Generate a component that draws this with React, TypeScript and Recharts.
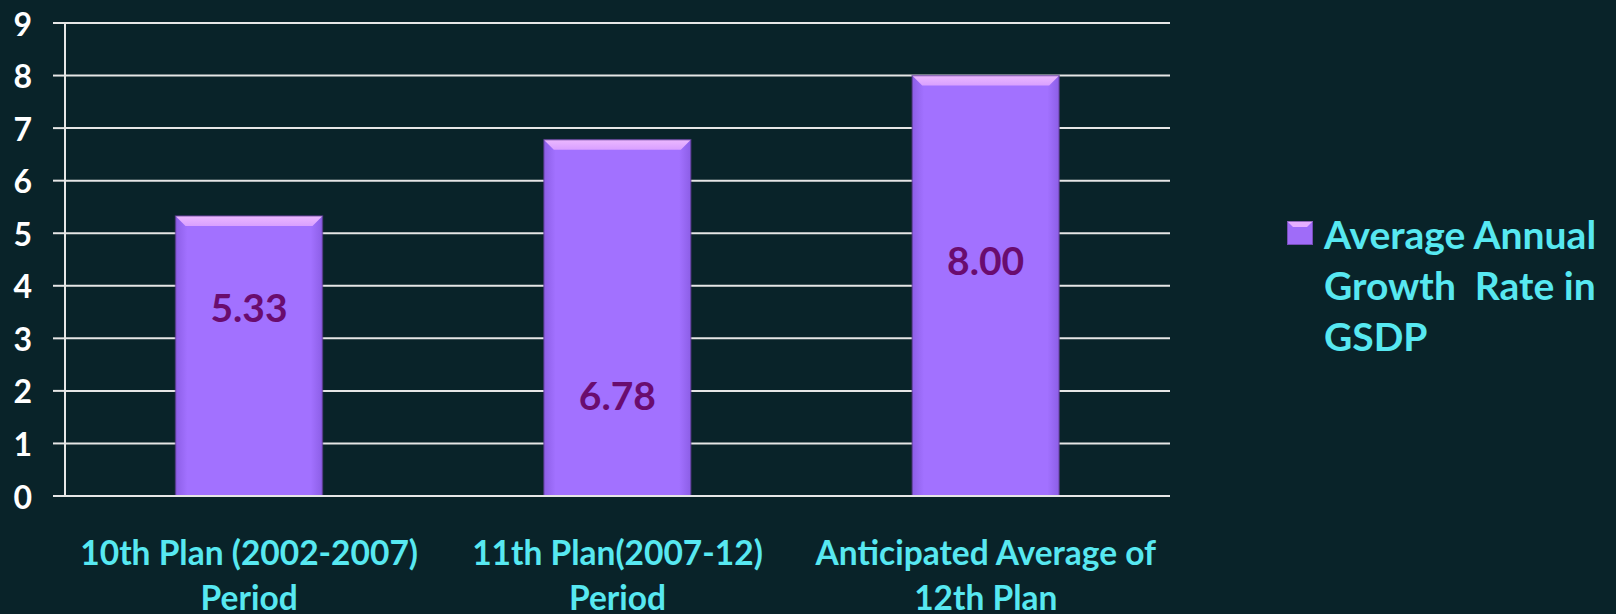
import React from 'react';
import { BarChart, Bar, XAxis, YAxis, CartesianGrid, LabelList } from 'recharts';

const categories = ['10th Plan (2002-2007)|Period', '11th Plan(2007-12)|Period', 'Anticipated Average of|12th Plan'];
const growthRates = [5.33, 6.78, 8.0];
const labelLevels = [3.6, 1.92, 4.5];
const yTicks = [0, 1, 2, 3, 4, 5, 6, 7, 8, 9];
const boundaryTicks = [0, 1, 2, 3];
const seriesName = 'Average Annual|Growth  Rate in|GSDP';

const data = categories.map((c, i) => ({ name: c, value: growthRates[i] }));

const BG = '#092329';
const CYAN = '#57E8F1';
const FONT = 'Lato, "Open Sans", sans-serif';

const BevelBar = (props: any) => {
  const { x, y, width, height } = props;
  if (!height || height <= 0) return null;
  const b = 10;
  return (
    <g>
      <rect x={x} y={y} width={width} height={height} fill="url(#barGrad)" />
      <polygon
        points={`${x},${y} ${x + width},${y} ${x + width - b},${y + b} ${x + b},${y + b}`}
        fill="url(#topGrad)"
      />
      <rect x={x} y={y} width={width} height={height} fill="none" stroke="#5b3a8e" strokeOpacity={0.6} strokeWidth={1.5} />
    </g>
  );
};

const ValueLabel = (props: any) => {
  const { x, y, width, height, index, value } = props;
  const lvl = labelLevels[index];
  const cy = y + height - height * (lvl / value);
  return (
    <text
      x={x + width / 2}
      y={cy}
      textAnchor="middle"
      dominantBaseline="central"
      fill="#6A0C6E"
      fontFamily={FONT}
      fontWeight={700}
      fontSize={39}
    >
      {Number(value).toFixed(2)}
    </text>
  );
};

const CatTick = (props: any) => {
  const { x, y, payload } = props;
  const lines = String(payload.value).split('|');
  return (
    <g>
      {lines.map((l, i) => (
        <text
          key={i}
          x={x}
          y={y + 61 + i * 45}
          textAnchor="middle"
          fill={CYAN}
          fontFamily={FONT}
          fontWeight={700}
          fontSize={33.5}
        >
          {l}
        </text>
      ))}
    </g>
  );
};

const YTick = (props: any) => {
  const { x, y, payload } = props;
  return (
    <text x={x - 19} y={y} textAnchor="end" dominantBaseline="central" fill="#FFFFFF" fontFamily={FONT} fontWeight={700} fontSize={32}>
      {payload.value}
    </text>
  );
};

const LegendBox = () => (
  <div style={{ position: 'absolute', left: 1287, top: 209, display: 'flex', alignItems: 'flex-start', fontFamily: FONT }}>
    <svg width={27} height={25} style={{ marginTop: 12, marginRight: 10, flex: 'none' }}>
      <rect x={0} y={0} width={26} height={24} fill="#9F6CF8" />
      <polygon points="0,0 26,0 20,6 6,6" fill="#E7AFFF" />
      <rect x={0.5} y={0.5} width={25} height={23} fill="none" stroke="#5b3a8e" strokeOpacity={0.6} />
    </svg>
    <div style={{ color: CYAN, fontWeight: 700, fontSize: 39, lineHeight: '51px', whiteSpace: 'pre' }}>
      {seriesName.split('|').map((l, i) => (
        <div key={i}>{l}</div>
      ))}
    </div>
  </div>
);

export default function App() {
  return (
    <div style={{ position: 'absolute', left: 0, top: 0, width: 1616, height: 614, background: BG, overflow: 'hidden' }}>
      <BarChart
        width={1616}
        height={614}
        data={data}
        margin={{ top: 23, right: 446, bottom: 0, left: 0 }}
        barCategoryGap="30%"
      >
        <defs>
          <linearGradient id="barGrad" x1="0" y1="0" x2="1" y2="0">
            <stop offset="0" stopColor="#8C5EE6" />
            <stop offset="0.08" stopColor="#A271FF" />
            <stop offset="0.92" stopColor="#A271FF" />
            <stop offset="1" stopColor="#8C5EE6" />
          </linearGradient>
          <linearGradient id="topGrad" x1="0" y1="0" x2="0" y2="1">
            <stop offset="0" stopColor="#ECB8FF" />
            <stop offset="1" stopColor="#D9A0FF" />
          </linearGradient>
        </defs>
        <CartesianGrid vertical={false} stroke="#E6E6E6" strokeWidth={2} />
        <XAxis
          xAxisId="bounds"
          type="number"
          domain={[0, 3]}
          ticks={boundaryTicks}
          tick={false}
          axisLine={false}
          tickLine={{ stroke: '#E6E6E6', strokeWidth: 2 }}
          tickSize={11}
          height={0}
          allowDataOverflow
        />
        <XAxis
          xAxisId="cat"
          dataKey="name"
          interval={0}
          tickLine={false}
          axisLine={{ stroke: '#E6E6E6', strokeWidth: 2 }}
          tick={<CatTick />}
          height={118}
        />
        <YAxis
          domain={[0, 9]}
          ticks={yTicks}
          interval={0}
          width={65}
          tickSize={12}
          axisLine={{ stroke: '#E6E6E6', strokeWidth: 2 }}
          tickLine={{ stroke: '#E6E6E6', strokeWidth: 2 }}
          tick={<YTick />}
        />
        <Bar
          xAxisId="cat"
          dataKey="value"
          name="Average Annual Growth Rate in GSDP"
          shape={<BevelBar />}
          isAnimationActive={false}
        >
          <LabelList dataKey="value" content={<ValueLabel />} />
        </Bar>
      </BarChart>
      <LegendBox />
    </div>
  );
}
